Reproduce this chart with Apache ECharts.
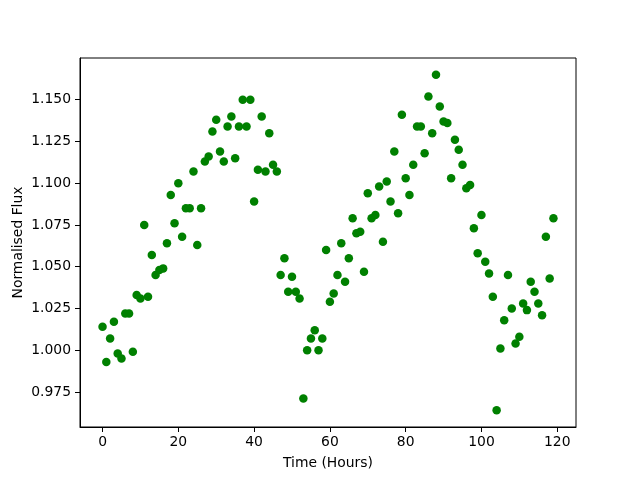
<!DOCTYPE html>
<html>
<head>
<meta charset="utf-8">
<script src="https://cdn.jsdelivr.net/npm/echarts@6/dist/echarts.min.js"></script>
<style>
html,body{margin:0;padding:0;background:#fff;}
#chart{width:640px;height:480px;}
</style>
</head>
<body>
<div id="chart"></div>
<script>
const hours = [];
for (let i = 0; i < 120; i++) hours.push(i);
const flux = [
1.014,0.993,1.007,1.017,0.998,0.995,1.022,1.022,0.999,1.033,
1.031,1.075,1.032,1.057,1.045,1.048,1.049,1.064,1.093,1.076,
1.100,1.068,1.085,1.085,1.107,1.063,1.085,1.113,1.116,1.131,
1.138,1.119,1.113,1.134,1.140,1.115,1.134,1.150,1.134,1.150,
1.089,1.108,1.140,1.107,1.130,1.111,1.107,1.045,1.055,1.035,
1.044,1.035,1.031,0.971,1.000,1.007,1.012,1.000,1.007,1.060,
1.029,1.034,1.045,1.064,1.041,1.055,1.079,1.070,1.071,1.047,
1.094,1.079,1.081,1.098,1.065,1.101,1.089,1.119,1.082,1.141,
1.103,1.093,1.111,1.134,1.134,1.118,1.152,1.130,1.165,1.146,
1.137,1.136,1.103,1.126,1.120,1.111,1.097,1.099,1.073,1.058,
1.081,1.053,1.046,1.032,0.964,1.001,1.018,1.045,1.025,1.004,
1.008,1.028,1.024,1.041,1.035,1.028,1.021,1.068,1.043,1.079
];
const xTicks = [0,20,40,60,80,100,120];
const yTicks = [0.975,1.000,1.025,1.050,1.075,1.100,1.125,1.150];

const points = hours.map((h,i)=>[h, flux[i]]);
const font = 'DejaVu Sans';
const chart = echarts.init(document.getElementById('chart'), null, {renderer:'canvas'});
chart.setOption({
  animation:false,
  backgroundColor:'#fff',
  grid:{left:80,right:64,top:58,bottom:53,show:true,borderColor:'#000',borderWidth:1,backgroundColor:'transparent'},
  xAxis:{
    type:'value', min:-5.95, max:124.95,
    name:'Time (Hours)', nameLocation:'middle', nameGap:29, nameMoveOverlap:false,
    nameTextStyle:{fontFamily:font,fontSize:13.9,color:'#000'},
    axisLine:{show:true,onZero:false,lineStyle:{color:'#000',width:1}},
    axisTick:{show:true,length:5,inside:false,customValues:xTicks,lineStyle:{color:'#000'}},
    axisLabel:{customValues:xTicks,margin:8,fontFamily:font,fontSize:13.9,color:'#000'},
    splitLine:{show:false}
  },
  yAxis:{
    type:'value', min:0.954, max:1.175,
    name:'Normalised Flux', nameLocation:'middle', nameGap:55, nameRotate:90, nameMoveOverlap:false,
    nameTextStyle:{fontFamily:font,fontSize:13.9,color:'#000'},
    axisLine:{show:true,onZero:false,lineStyle:{color:'#000',width:1}},
    axisTick:{show:true,length:5,inside:false,customValues:yTicks,lineStyle:{color:'#000'}},
    axisLabel:{customValues:yTicks,margin:9,fontFamily:font,fontSize:13.9,color:'#000',
      formatter:v=>v.toFixed(3)},
    splitLine:{show:false}
  },
  series:[{
    type:'scatter',
    data:points,
    symbol:'circle',
    symbolSize:8.5,
    itemStyle:{color:'#008000',opacity:1},
    emphasis:{disabled:true}
  }]
});
</script>
</body>
</html>
